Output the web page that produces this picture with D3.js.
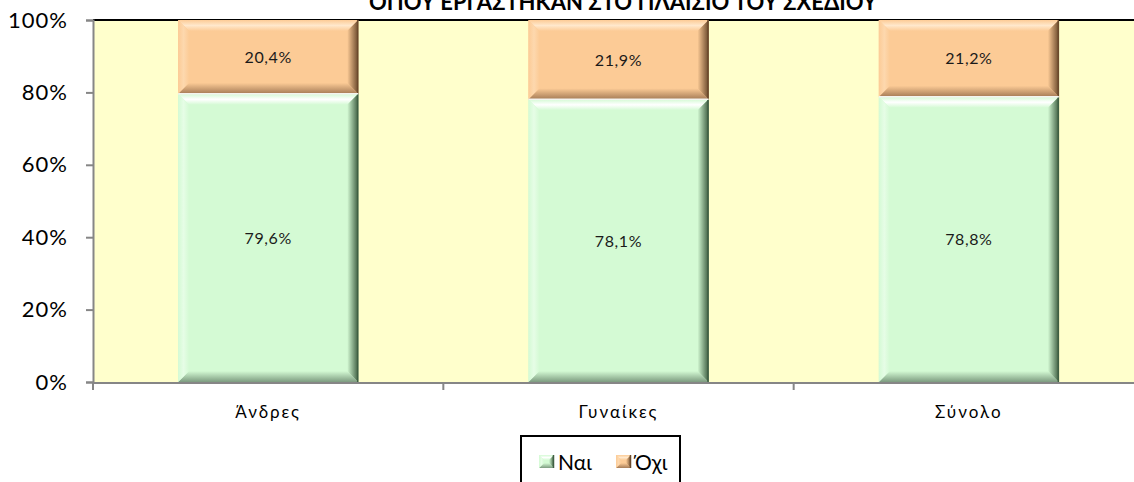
<!DOCTYPE html>
<html>
<head>
<meta charset="utf-8">
<script src="https://cdn.jsdelivr.net/npm/d3@7"></script>
<style>
  body { margin: 0; background: #fff; }
  svg { display: block; font-family: Lato, "Open Sans", sans-serif; }
</style>
</head>
<body>
<svg id="chart" width="1134" height="482"></svg>
<script>
// data
const categories = ["Άνδρες", "Γυναίκες", "Σύνολο"];
const yesValues = [79.6, 78.1, 78.8];
const noValues = [20.4, 21.9, 21.2];
const seriesNames = ["Ναι", "Όχι"];
const yTicks = [0, 20, 40, 60, 80, 100];
const titleText = "ΟΠΟΥ ΕΡΓΑΣΤΗΚΑΝ ΣΤΟ ΠΛΑΙΣΙΟ ΤΟΥ ΣΧΕΔΙΟΥ";

let chart = d3.select("#chart"),
    margin = {top: 20, left: 93, bottom: 100},
    plotRight = 1144,
    plotBottom = 382;

let x = d3.scaleBand()
    .domain(categories)
    .range([margin.left, plotRight])
    .paddingInner(0.486)
    .paddingOuter(0.243);

let y = d3.scaleLinear()
    .domain([0, 100])
    .range([plotBottom, margin.top]);

let defs = chart.append("defs");

// bevel colours for each series
let palette = {
    yes: {base: "#d4fad4", light: "#ffffff", side: "#e6fde6", dark: "#3f5f42", bottom: "#7d9c80"},
    no:  {base: "#fccb96", light: "#ffe8cc", side: "#fdd8ae", dark: "#6b4a2c", bottom: "#a67c57"}
};

function addGrad(id, x1, y1, x2, y2, stops) {
    let g = defs.append("linearGradient").attr("id", id)
        .attr("x1", x1).attr("y1", y1).attr("x2", x2).attr("y2", y2);
    stops.forEach(s => g.append("stop").attr("offset", s[0]).attr("stop-color", s[1]));
}

Object.keys(palette).forEach(k => {
    let p = palette[k];
    addGrad(k + "-top", 0, 0, 0, 1, [[0, p.base], [0.5, p.light], [1, p.base]]);
    addGrad(k + "-left", 0, 0, 1, 0, [[0, p.base], [0.5, p.side], [1, p.base]]);
    addGrad(k + "-right", 0, 0, 1, 0, [[0, p.base], [1, p.dark]]);
    addGrad(k + "-bottom", 0, 0, 0, 1, [[0, p.base], [1, p.bottom]]);
});

// plot background
chart.append("rect")
    .attr("x", margin.left)
    .attr("y", margin.top)
    .attr("width", plotRight - margin.left)
    .attr("height", plotBottom - margin.top)
    .attr("fill", "#ffffcc");

chart.append("line")
    .attr("x1", margin.left).attr("x2", plotRight)
    .attr("y1", margin.top).attr("y2", margin.top)
    .attr("stroke", "#000").attr("stroke-width", 2);

function bevelBar(g, bx, by, bw, bh, key, size) {
    let b = Math.min(size || 11, bh / 2);
    let p = palette[key];
    g.append("rect").attr("x", bx).attr("y", by).attr("width", bw).attr("height", bh).attr("fill", p.base);
    let pts = {
        top: [[bx, by], [bx + bw, by], [bx + bw - b, by + b], [bx + b, by + b]],
        bottom: [[bx, by + bh], [bx + bw, by + bh], [bx + bw - b, by + bh - b], [bx + b, by + bh - b]],
        left: [[bx, by], [bx + b, by + b], [bx + b, by + bh - b], [bx, by + bh]],
        right: [[bx + bw, by], [bx + bw - b, by + b], [bx + bw - b, by + bh - b], [bx + bw, by + bh]]
    };
    ["top", "bottom", "left", "right"].forEach(side => {
        g.append("polygon")
            .attr("points", pts[side].map(d => d.join(",")).join(" "))
            .attr("fill", "url(#" + key + "-" + side + ")");
    });
    g.append("line")
        .attr("x1", bx + bw - 0.5).attr("x2", bx + bw - 0.5)
        .attr("y1", by).attr("y2", by + bh)
        .attr("stroke", p.dark).attr("stroke-width", 1.5);
}

let bars = chart.append("g");
let fmt = v => v.toFixed(1).replace(".", ",") + "%";
categories.forEach((c, i) => {
    let bx = x(c), bw = x.bandwidth();
    let yesTop = y(yesValues[i]);
    bevelBar(bars, bx, yesTop, bw, plotBottom - yesTop, "yes");
    let noTop = y(yesValues[i] + noValues[i]);
    bevelBar(bars, bx, noTop, bw, yesTop - noTop, "no");
    bars.append("line")
        .attr("x1", bx).attr("x2", bx + bw)
        .attr("y1", yesTop).attr("y2", yesTop)
        .attr("stroke", "#f4f4f0").attr("stroke-width", 1.5);

    bars.append("text")
        .attr("x", bx + bw / 2).attr("y", (yesTop + plotBottom) / 2 + 6)
        .attr("text-anchor", "middle").attr("font-size", 16)
        .attr("letter-spacing", 0.6).attr("fill", "#1a1a1a")
        .text(fmt(yesValues[i]));
    bars.append("text")
        .attr("x", bx + bw / 2).attr("y", (noTop + yesTop) / 2 + 6)
        .attr("text-anchor", "middle").attr("font-size", 16)
        .attr("letter-spacing", 0.6).attr("fill", "#1a1a1a")
        .text(fmt(noValues[i]));
});

// y axis
let yAxis = chart.append("g")
    .attr("transform", "translate(" + margin.left + ",0)")
    .call(d3.axisLeft(y).tickValues(yTicks).tickSize(7).tickPadding(18).tickFormat(d => d + "%"));
yAxis.select(".domain").attr("stroke", "#868686").attr("stroke-width", 2);
yAxis.selectAll(".tick line").attr("stroke", "#868686").attr("stroke-width", 2);
yAxis.selectAll(".tick text").attr("font-size", 22).attr("fill", "#000")
    .attr("letter-spacing", 1)
    .attr("font-family", "Lato, sans-serif");

// x axis
let step = x.step();
let bounds = categories.map(c => x(c) - step * x.paddingInner() / 2);
bounds.push(bounds[bounds.length - 1] + step);
let xAxis = chart.append("g");
xAxis.append("line")
    .attr("x1", margin.left).attr("x2", plotRight)
    .attr("y1", plotBottom + 1).attr("y2", plotBottom + 1)
    .attr("stroke", "#868686").attr("stroke-width", 2);
xAxis.selectAll(".xt")
    .data(bounds)
    .enter().append("line")
    .attr("x1", d => d).attr("x2", d => d)
    .attr("y1", plotBottom).attr("y2", plotBottom + 8)
    .attr("stroke", "#868686").attr("stroke-width", 2);
xAxis.selectAll(".xl")
    .data(categories)
    .enter().append("text")
    .attr("x", d => x(d) + x.bandwidth() / 2)
    .attr("y", 418)
    .attr("text-anchor", "middle")
    .attr("font-size", 17)
    .attr("letter-spacing", 2)
    .text(d => d);

// title (top part is cut off in the original)
chart.append("text")
    .attr("x", 623).attr("y", 10)
    .attr("text-anchor", "middle")
    .attr("font-size", 22)
    .attr("font-weight", "bold")
    .text(titleText);

// legend
let legend = chart.append("g");
legend.append("rect")
    .attr("x", 521).attr("y", 436)
    .attr("width", 159).attr("height", 60)
    .attr("fill", "#fff").attr("stroke", "#000").attr("stroke-width", 2);
let legendKeys = ["yes", "no"];
let legendX = [539, 616];
seriesNames.forEach((s, i) => {
    let k = legendKeys[i];
    bevelBar(legend, legendX[i], 455, 15, 13, k, 5);
    legend.append("text")
        .attr("x", legendX[i] + 19).attr("y", 470)
        .attr("font-size", 21)
        .text(s);
});
</script>
</body>
</html>
